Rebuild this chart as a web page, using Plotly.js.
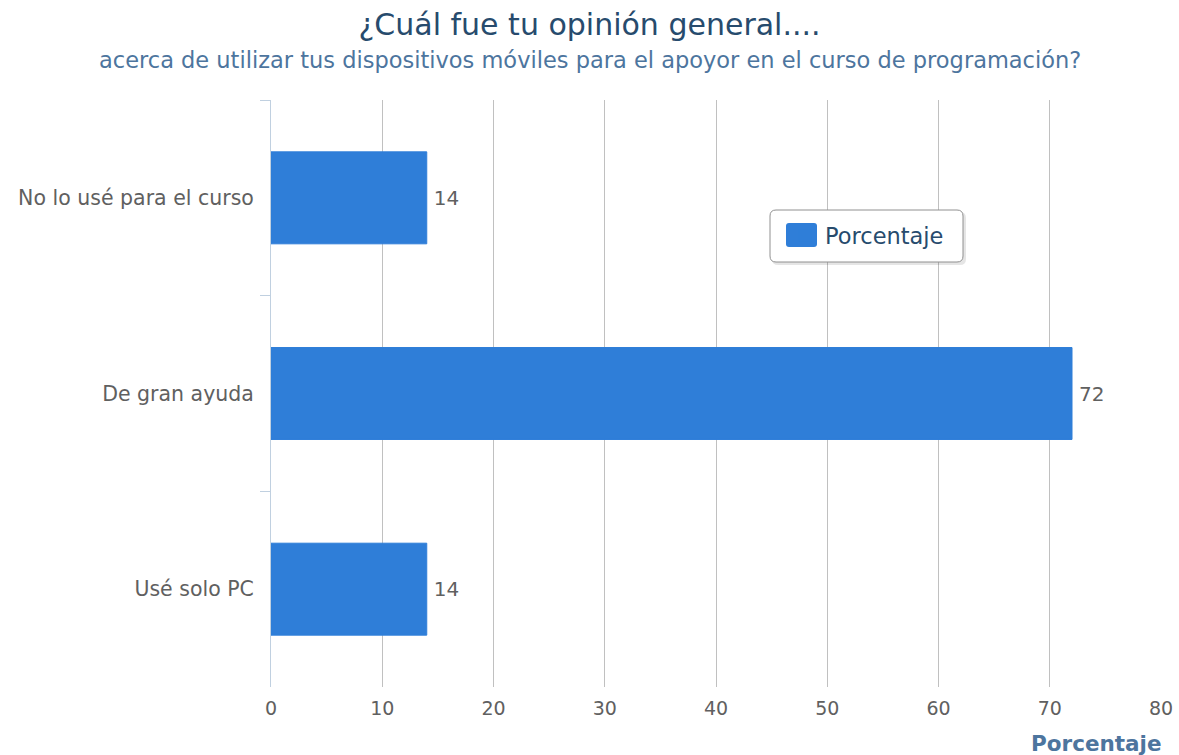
<!DOCTYPE html>
<html>
<head>
<meta charset="utf-8">
<script src="https://cdn.plot.ly/plotly-3.0.1.min.js"></script>
<style>html,body{margin:0;padding:0;background:#fff;}#chart{width:1179px;height:755px;}</style>
</head>
<body>
<div id="chart"></div>
<script>
const categories = ["No lo usé para el curso", "De gran ayuda", "Usé solo PC"];
const porcentaje = [14, 72, 14];
const xTicks = [0, 10, 20, 30, 40, 50, 60, 70, 80];
const seriesName = "Porcentaje";
const titleText = "¿Cuál fue tu opinión general....";
const subtitleText = "acerca de utilizar tus dispositivos móviles para el apoyor en el curso de programación?";
const axisTitle = "Porcentaje";

const W = 1179, H = 755;
const M = {l: 271, r: 18, t: 100, b: 68};
const PW = W - M.l - M.r, PH = H - M.t - M.b;
const px = x => (x - M.l) / PW;
const py = y => (H - M.b - y) / PH;
function roundRect(x0, y0, x1, y1, r) {
  const X = px, Y = py;
  return `M${X(x0 + r)},${Y(y0)} L${X(x1 - r)},${Y(y0)} Q${X(x1)},${Y(y0)} ${X(x1)},${Y(y0 + r)} ` +
         `L${X(x1)},${Y(y1 - r)} Q${X(x1)},${Y(y1)} ${X(x1 - r)},${Y(y1)} ` +
         `L${X(x0 + r)},${Y(y1)} Q${X(x0)},${Y(y1)} ${X(x0)},${Y(y1 - r)} ` +
         `L${X(x0)},${Y(y0 + r)} Q${X(x0)},${Y(y0)} ${X(x0 + r)},${Y(y0)} Z`;
}

const FONT = "DejaVu Sans, Verdana, sans-serif";

const trace = {
  type: "bar",
  orientation: "h",
  name: seriesName,
  y: categories,
  x: porcentaje,
  marker: {color: "#2f7ed8", line: {color: "#2f7ed8", width: 1}},
  text: porcentaje.map(v => "\u2009" + v),
  textposition: "outside",
  textfont: {family: FONT, size: 20, color: "#606060"},
  cliponaxis: false,
  hoverinfo: "x+y"
};

const layout = {
  width: W, height: H,
  margin: M,
  paper_bgcolor: "#ffffff",
  plot_bgcolor: "#ffffff",
  font: {family: FONT, color: "#666666"},
  bargap: 0.53,
  title: {
    text: titleText,
    font: {family: FONT, size: 30, color: "#274b6d"},
    x: 0.5, xanchor: "center",
    y: 0.968, yanchor: "middle"
  },
  xaxis: {
    range: [0, 80],
    tickvals: xTicks,
    ticktext: xTicks.map(String),
    showgrid: true,
    gridcolor: "#C0C0C0",
    gridwidth: 1,
    zeroline: false,
    showline: false,
    ticks: "",
    ticklabelstandoff: 8,
    tickfont: {family: FONT, size: 19, color: "#606060"},
    fixedrange: true
  },
  yaxis: {
    type: "category",
    autorange: "reversed",
    showgrid: false,
    zeroline: false,
    showline: true,
    linecolor: "#C0D0E0",
    linewidth: 1,
    ticks: "outside",
    tickson: "boundaries",
    ticklen: 10,
    tickcolor: "#C0D0E0",
    tickwidth: 1,
    ticklabelstandoff: 12,
    tickfont: {family: FONT, size: 20.5, color: "#606060"},
    fixedrange: true
  },
  showlegend: true,
  legend: {
    x: px(785), y: py(236), xanchor: "left", yanchor: "middle",
    bgcolor: "rgba(0,0,0,0)",
    borderwidth: 0,
    font: {family: FONT, size: 22.5, color: "#274b6d"}
  },
  shapes: [
    {type: "path", xref: "paper", yref: "paper", layer: "above",
     path: roundRect(772, 212, 966, 265, 6), fillcolor: "rgba(0,0,0,0.10)", line: {width: 0}},
    {type: "path", xref: "paper", yref: "paper", layer: "above",
     path: roundRect(770, 210, 963, 262, 6), fillcolor: "#ffffff", line: {color: "#909090", width: 1}},
    {type: "path", xref: "paper", yref: "paper", layer: "above",
     path: roundRect(786, 223, 817, 247, 3), fillcolor: "#2f7ed8", line: {width: 0}}
  ],
  annotations: [
    {text: subtitleText, xref: "paper", yref: "paper", x: px(589.5), y: py(60),
     xanchor: "center", yanchor: "middle", showarrow: false,
     font: {family: FONT, size: 22.5, color: "#4d759e"}},
    {text: "<b>" + axisTitle + "</b>", xref: "paper", yref: "paper", x: px(1164), y: py(743),
     xanchor: "right", yanchor: "middle", showarrow: false,
     font: {family: FONT, size: 21.5, color: "#4d759e"}}
  ]
};

Plotly.newPlot("chart", [trace], layout, {displayModeBar: false});
</script>
</body>
</html>
